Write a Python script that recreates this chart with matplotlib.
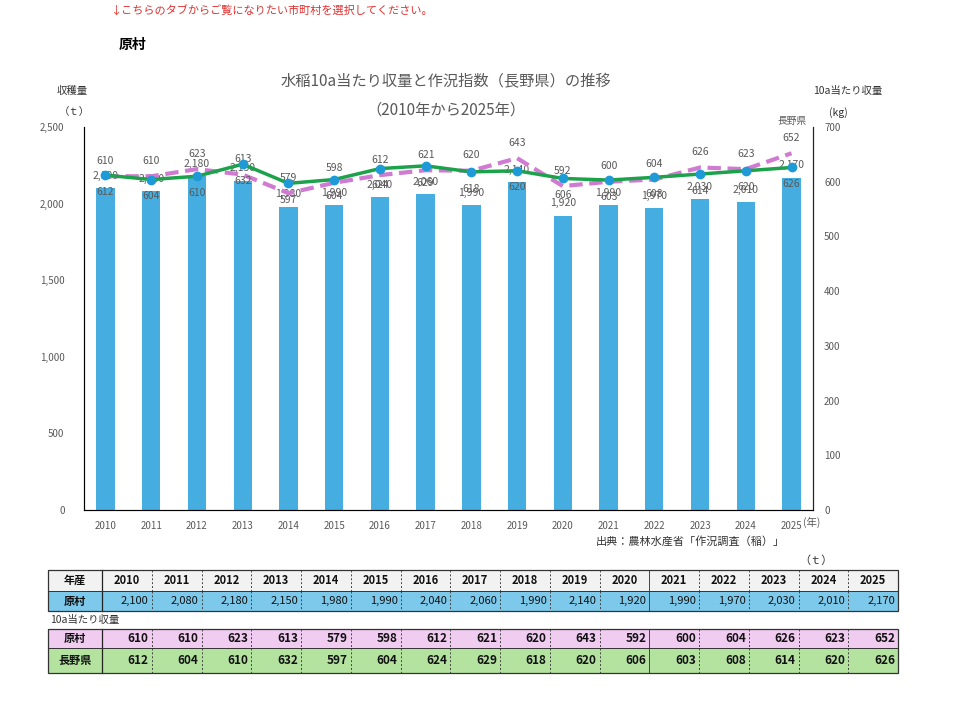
import matplotlib
matplotlib.use("Agg")
from matplotlib import pyplot as plt
from matplotlib.patches import Rectangle

plt.rcParams['font.family'] = ['Noto Sans CJK JP', 'DejaVu Sans']

years = [2010, 2011, 2012, 2013, 2014, 2015, 2016, 2017,
         2018, 2019, 2020, 2021, 2022, 2023, 2024, 2025]
harvest = [2100, 2080, 2180, 2150, 1980, 1990, 2040, 2060,
           1990, 2140, 1920, 1990, 1970, 2030, 2010, 2170]
yield_hara = [610, 610, 623, 613, 579, 598, 612, 621,
              620, 643, 592, 600, 604, 626, 623, 652]
yield_nagano = [612, 604, 610, 632, 597, 604, 624, 629,
                618, 620, 606, 603, 608, 614, 620, 626]

W, H = 960, 701
fig = plt.figure(figsize=(9.6, 7.01), dpi=100)
gray = "#595959"

def fx(px):
    return px / W

def fy(py):
    return 1 - py / H

# main chart
ax = fig.add_axes([fx(84), fy(510), fx(813) - fx(84), fy(127) - fy(510)])
x = list(range(len(years)))
ax.bar(x, harvest, width=0.4, color="#45ADE0", zorder=1)
ax.set_ylim(0, 2500)
ax.set_xlim(-0.47, len(years) - 0.53)
ax.set_yticks(range(0, 2501, 500))
ax.set_yticklabels(["{:,}".format(v) for v in range(0, 2501, 500)])
ax.set_xticks(x)
ax.set_xticklabels([str(y) for y in years])
ax.tick_params(axis="both", length=0, labelsize=7, labelcolor=gray)
ax.tick_params(axis="y", pad=14)
ax.tick_params(axis="x", pad=8)
for s in ["top"]:
    ax.spines[s].set_visible(False)
ax.spines["left"].set_color("#222222")
ax.spines["bottom"].set_color("#555555")
for i, v in enumerate(harvest):
    ax.annotate("{:,}".format(v), (i, v), xytext=(0, 9), textcoords="offset points",
                ha="center", va="center", fontsize=7.5, color=gray, zorder=5)

ax2 = ax.twinx()
ax2.set_ylim(0, 700)
ax2.set_yticks(range(0, 701, 100))
ax2.tick_params(axis="y", length=0, labelsize=7, labelcolor=gray, pad=8)
ax2.spines["top"].set_visible(False)
ax2.spines["right"].set_color("#222222")
ax2.plot(x, yield_hara, color="#D07AD2", lw=3, ls=(0, (3.2, 1.6)), zorder=3)
ax2.plot(x, yield_nagano, color="#1BA24B", lw=2.5, zorder=4,
         marker="o", markersize=6, markerfacecolor="#1E9BD7", markeredgecolor="#1E9BD7")
for i, v in enumerate(yield_hara):
    ax2.annotate(str(v), (i, v), xytext=(0, 11), textcoords="offset points",
                 ha="center", va="center", fontsize=7.5, color=gray)
for i, v in enumerate(yield_nagano):
    ax2.annotate(str(v), (i, v), xytext=(0, -12), textcoords="offset points",
                 ha="center", va="center", fontsize=7.5, color=gray)

# texts
fig.text(fx(110), fy(11), "↓こちらのタブからご覧になりたい市町村を選択してください。",
         color="#E03030", fontsize=8, va="center", ha="left")
fig.text(fx(119), fy(45), "原村", fontsize=10, fontweight="bold", va="center")
fig.text(fx(446), fy(82), "水稲10a当たり収量と作況指数（長野県）の推移",
         fontsize=11, color=gray, ha="center", va="center")
fig.text(fx(446), fy(110), "（2010年から2025年）",
         fontsize=11, color=gray, ha="center", va="center")
fig.text(fx(72), fy(91), "収穫量", fontsize=7.5, color="#333333", ha="center", va="center")
fig.text(fx(74), fy(112), "（ｔ）", fontsize=7.5, color="#333333", ha="center", va="center")
fig.text(fx(848), fy(91), "10a当たり収量", fontsize=7.5, color="#333333", ha="center", va="center")
fig.text(fx(838), fy(113), "(kg)", fontsize=7.5, color="#333333", ha="center", va="center")
fig.text(fx(792), fy(121), "長野県", fontsize=7, color=gray, ha="center", va="center")
fig.text(fx(812), fy(522), "(年)", fontsize=7.5, color=gray, ha="center", va="center")
fig.text(fx(690), fy(541), "出典：農林水産省「作況調査（稲）」", fontsize=8,
         color="#333333", ha="center", va="center")
fig.text(fx(816), fy(561), "（ｔ）", fontsize=8, color="#333333", ha="center", va="center")

# table
tb = fig.add_axes([0, 0, 1, 1])
tb.set_xlim(0, W)
tb.set_ylim(H, 0)
tb.axis("off")
x0, c0, cw = 48, 102, 49.75
rows = [
    (570, 591, "#F2F2F2", "年産", [str(y) for y in years], "center"),
    (591, 611, "#7DC9EB", "原村", ["{:,}".format(v) for v in harvest], "right"),
    (629, 648, "#F0CCF0", "原村", [str(v) for v in yield_hara], "right"),
    (648, 673, "#B4E3A0", "長野県", [str(v) for v in yield_nagano], "right"),
]
for top, bot, col, head, vals, al in rows:
    tb.add_patch(Rectangle((x0, top), 898 - x0, bot - top, facecolor=col,
                           edgecolor="none", zorder=1))
    yc = (top + bot) / 2
    tb.text((x0 + c0) / 2, yc, head, ha="center", va="center", fontsize=8,
            fontweight="bold", color="#111111", zorder=3)
    for j, v in enumerate(vals):
        left = c0 + j * cw
        if al == "center":
            tb.text(left + cw / 2, yc, v, ha="center", va="center", fontsize=8,
                    fontweight="bold", color="#111111", zorder=3)
        else:
            bold = head != "原村" or top > 600
            tb.text(left + cw - 3, yc, v, ha="right", va="center",
                    fontsize=8.5 if bold else 8, fontweight="bold" if bold else "normal",
                    color="#111111", zorder=3)
        if j < len(vals) - 1:
            ls = "-" if j == 10 else (0, (2, 2))
            tb.plot([left + cw, left + cw], [top, bot], color="#444444",
                    lw=0.7, ls=ls, zorder=2)
    tb.plot([c0, c0], [top, bot], color="#222222", lw=0.9, zorder=2)

for top, bot in [(570, 611), (629, 673)]:
    tb.add_patch(Rectangle((x0, top), 898 - x0, bot - top, facecolor="none",
                           edgecolor="#333333", lw=0.9, zorder=4))
tb.plot([x0, 898], [591, 591], color="#333333", lw=0.7, zorder=4)
tb.plot([x0, 898], [648, 648], color="#333333", lw=0.7, zorder=4)
tb.text(50, 620, "10a当たり収量", fontsize=7.5, color="#333333", va="center")

fig.savefig("out.png", dpi=100)
